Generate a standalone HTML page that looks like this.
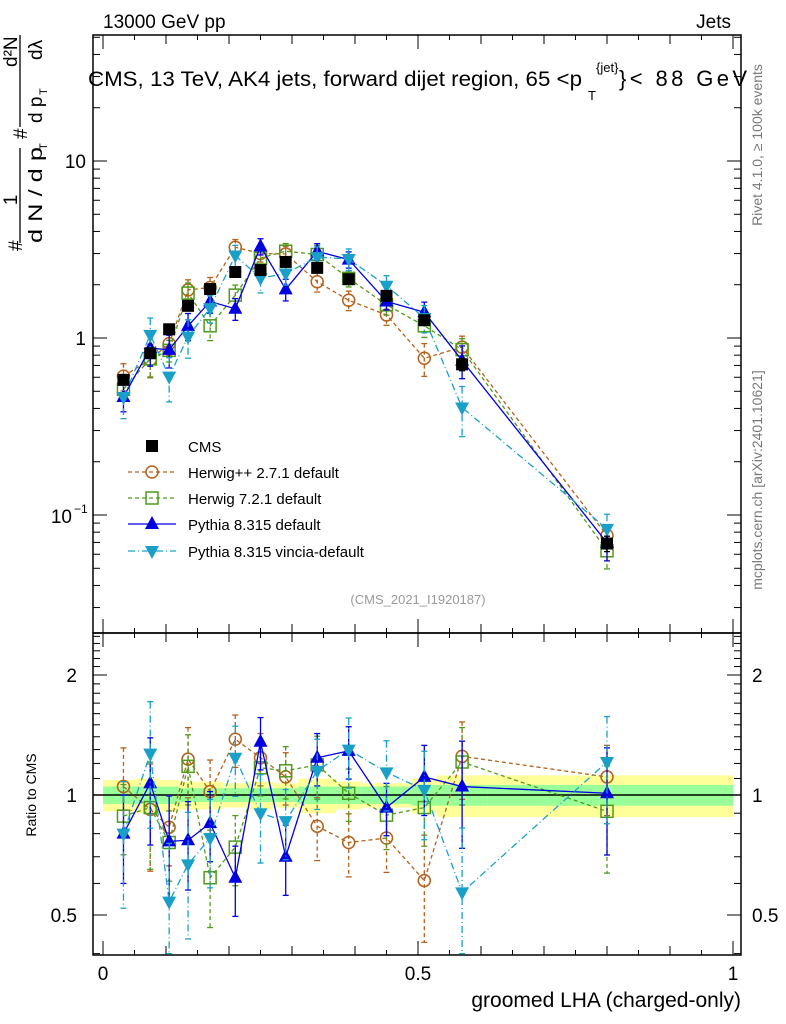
<!DOCTYPE html>
<html><head><meta charset="utf-8"><style>
body{margin:0;background:#fff;width:786px;height:1024px;overflow:hidden;font-family:"Liberation Sans",sans-serif}
svg{position:absolute;left:0;top:0}
</style></head><body>
<svg id="c" width="786" height="1024" viewBox="0 0 786 1024" font-family="Liberation Sans, sans-serif"></svg>
<script>
const xVals=[0.0325,0.075,0.105,0.135,0.17,0.21,0.25,0.29,0.34,0.39,0.45,0.51,0.57,0.8];
const binEdges=[0,0.05,0.09,0.12,0.15,0.19,0.23,0.27,0.31,0.37,0.41,0.49,0.53,0.61,1.0];
const cmsVals=[0.58,0.82,1.12,1.52,1.89,2.36,2.42,2.69,2.49,2.15,1.73,1.26,0.71,0.069];
const bandYellow=[0.09,0.1,0.09,0.08,0.08,0.07,0.08,0.07,0.1,0.08,0.07,0.1,0.12,0.12];
const bandGreen=[0.05,0.05,0.05,0.04,0.04,0.04,0.04,0.04,0.05,0.05,0.05,0.06,0.06,0.06];
const herwigPPRatio=[1.05,0.92,0.83,1.23,1.02,1.38,1.24,1.11,0.835,0.76,0.78,0.61,1.25,1.11];
const herwig7Ratio=[0.885,0.93,0.76,1.18,0.62,0.74,1.17,1.15,1.19,1.01,0.89,0.93,1.21,0.91];
const pythiaRatio=[0.80,1.07,0.765,0.77,0.85,0.62,1.36,0.70,1.24,1.29,0.93,1.11,1.05,1.01];
const vinciaRatio=[0.80,1.27,0.54,0.67,0.78,1.24,0.90,0.86,1.15,1.30,1.14,1.03,0.57,1.21];
const herwigPPErr=[0.25,0.3,0.2,0.2,0.2,0.15,0.15,0.15,0.18,0.18,0.18,0.3,0.22,0.2];
const herwig7Err=[0.2,0.3,0.2,0.2,0.25,0.2,0.15,0.15,0.18,0.15,0.18,0.2,0.22,0.3];
const pythiaErr=[0.25,0.3,0.3,0.25,0.2,0.2,0.15,0.2,0.15,0.15,0.15,0.2,0.3,0.3];
const vinciaErr=[0.35,0.35,0.4,0.35,0.25,0.2,0.25,0.2,0.2,0.2,0.2,0.25,0.45,0.3];
const cmsErr=[0.05,0.06,0.05,0.05,0.04,0.04,0.04,0.04,0.05,0.05,0.05,0.06,0.08,0.1];

const NS="http://www.w3.org/2000/svg";const svg=document.getElementById('c');
function el(t,a,p){const e=document.createElementNS(NS,t);for(const k in a)e.setAttribute(k,a[k]);(p||svg).appendChild(e);return e;}
const L=93,R=741,T=35,M=633,B=955;
const X=v=>103+630*v;
const Y=v=>338-177*Math.log10(v);
const RY=r=>795-120*Math.log2(r);
const gB=el('g',{});
for(let i=0;i<xVals.length;i++){const x0=X(binEdges[i]),x1=X(binEdges[i+1]);
 let r=el('rect',{x:x0,y:RY(1+bandYellow[i]),width:x1-x0,height:RY(1-bandYellow[i])-RY(1+bandYellow[i]),fill:'#ffff99'},gB);
 
 r=el('rect',{x:x0,y:RY(1+bandGreen[i]),width:x1-x0,height:RY(1-bandGreen[i])-RY(1+bandGreen[i]),fill:'#99ff99'},gB);
 }
el('line',{x1:L,x2:R,y1:RY(1),y2:RY(1),stroke:'#000','stroke-width':1.5});
el('rect',{x:L,y:T,width:R-L,height:M-T,fill:'none',stroke:'#000','stroke-width':1.5});
el('rect',{x:L,y:M,width:R-L,height:B-M,fill:'none',stroke:'#000','stroke-width':1.5});
for(let d=-2;d<=1;d++)for(let k=1;k<=9;k++){const v=k*Math.pow(10,d);const y=Y(v);if(y<T||y>M)continue;const len=k==1?14:7;
 el('line',{x1:L,x2:L+len,y1:y,y2:y,stroke:'#000'});el('line',{x1:R,x2:R-len,y1:y,y2:y,stroke:'#000'});}
[0.4,0.5,0.6,0.7,0.8,0.9,1,1.1,1.2,1.3,1.4,1.5,1.6,1.7,1.8,1.9,2,2.1,2.2,2.3,2.4,2.5].forEach(v=>{const y=RY(v);const len=(v==0.5||v==1||v==2)?14:7;
 el('line',{x1:L,x2:L+len,y1:y,y2:y,stroke:'#000'});el('line',{x1:R,x2:R-len,y1:y,y2:y,stroke:'#000'});});
for(let i=0;i<=20;i++){const v=i*0.05;const x=X(v);const len=(i%10==0)?14:(i%2==0?9:5);
 el('line',{x1:x,x2:x,y1:B,y2:B-len,stroke:'#000'});el('line',{x1:x,x2:x,y1:M,y2:M+len,stroke:'#000'});
 el('line',{x1:x,x2:x,y1:M,y2:M-len,stroke:'#000'});el('line',{x1:x,x2:x,y1:T,y2:T+len,stroke:'#000'});}
function txt(s,a,name,p){const t=el('text',a,p);t.textContent=s;return t;}
txt('10',{x:86,y:168,'font-size':19,'text-anchor':'end'},'y-tick-10');
txt('1',{x:86,y:345,'font-size':19,'text-anchor':'end'},'y-tick-1');
txt('10',{x:72,y:523,'font-size':19,'text-anchor':'end'},'y-tick-0.1');
txt('−1',{x:74,y:513,'font-size':12},'y-tick-exp');
[[2,'2'],[1,'1'],[0.5,'0.5']].forEach(([v,s])=>{txt(s,{x:77,y:RY(v)+7,'font-size':19,'text-anchor':'end'},'ratio-tick-'+s);
 txt(s,{x:752,y:RY(v)+7,'font-size':19},'ratio-tick-right-'+s);});
[[0,'0'],[0.5,'0.5'],[1,'1']].forEach(([v,s])=>txt(s,{x:X(v),y:980,'font-size':19,'text-anchor':'middle'},'x-tick-'+s));
txt('groomed LHA (charged-only)',{x:741,y:1007,'font-size':21,'text-anchor':'end'},'x-axis-title');
txt('Ratio to CMS',{x:0,y:0,'font-size':14,'text-anchor':'middle',transform:'translate(36,795) rotate(-90)'},'ratio-axis-title');
txt('13000 GeV pp',{x:103,y:28,'font-size':19},'header-left');
txt('Jets',{x:731,y:28,'font-size':19,'text-anchor':'end'},'header-right');
const tg=el('g',{});
txt('CMS, 13 TeV, AK4 jets, forward dijet region, 65 <p',{x:88,y:86,'font-size':21,textLength:494,lengthAdjust:'spacingAndGlyphs'},'title-main',tg);
txt('{jet}',{x:596,y:72,'font-size':13},'title-sup',tg);
txt('T',{x:588,y:100,'font-size':13},'title-sub',tg);
txt('}< 88 GeV',{x:619,y:86,'font-size':22,textLength:128,lengthAdjust:'spacing'},'title-end',tg);
txt('Rivet 4.1.0, ≥ 100k events',{x:0,y:0,'font-size':14,fill:'#777','text-anchor':'middle',transform:'translate(762,145) rotate(-90)'},'rivet-label');
txt('mcplots.cern.ch [arXiv:2401.10621]',{x:0,y:0,'font-size':14,fill:'#777','text-anchor':'middle',transform:'translate(762,480) rotate(-90)'},'mcplots-label');
txt('(CMS_2021_I1920187)',{x:418,y:604,'font-size':13,fill:'#999','text-anchor':'middle'},'analysis-id');
const yt=el('g',{transform:'rotate(-90)'});
el('text',{x:-251,y:22,'font-size':19},yt).textContent='#';
el('line',{x1:-243,x2:-148,y1:20,y2:20,stroke:'#000','stroke-width':1.3},yt);
el('text',{x:-200,y:17,'font-size':19,'text-anchor':'middle'},yt).textContent='1';
el('text',{x:-243,y:42,'font-size':19,textLength:96,lengthAdjust:'spacingAndGlyphs'},yt).textContent='d N / d p';
el('text',{x:-150,y:47,'font-size':11},yt).textContent='T';
el('text',{x:-139,y:27,'font-size':19},yt).textContent='#';
el('line',{x1:-127,x2:-35,y1:20,y2:20,stroke:'#000','stroke-width':1.3},yt);
el('text',{x:-67,y:17,'font-size':19},yt).textContent='d²N';
el('text',{x:-123,y:42,'font-size':19},yt).textContent='d p';
el('text',{x:-95,y:47,'font-size':11},yt).textContent='T';
el('text',{x:-60,y:42,'font-size':19},yt).textContent='dλ';
const series=[
 {name:'herwigpp',label:'Herwig++ 2.7.1 default',col:'#b5601a',dash:'4,3',r:herwigPPRatio,e:herwigPPErr,m:'circle'},
 {name:'herwig7',label:'Herwig 7.2.1 default',col:'#4f9a1c',dash:'4,3',r:herwig7Ratio,e:herwig7Err,m:'square'},
 {name:'pythia',label:'Pythia 8.315 default',col:'#0000e0',dash:'',r:pythiaRatio,e:pythiaErr,m:'tri'},
 {name:'vincia',label:'Pythia 8.315 vincia-default',col:'#1aa0c8',dash:'7,3,1,3',r:vinciaRatio,e:vinciaErr,m:'itri'}];
function marker(g,m,x,y,c){let e;
 if(m=='circle')e=el('circle',{cx:x,cy:y,r:6,fill:'none',stroke:c,'stroke-width':1.5},g);
 else if(m=='square')e=el('rect',{x:x-6,y:y-6,width:12,height:12,fill:'none',stroke:c,'stroke-width':1.5},g);
 else if(m=='tri')e=el('polygon',{points:`${x},${y-8} ${x-7},${y+5} ${x+7},${y+5}`,fill:c},g);
 else if(m=='itri')e=el('polygon',{points:`${x},${y+8} ${x-7},${y-5} ${x+7},${y-5}`,fill:c},g);
 else e=el('rect',{x:x-6,y:y-6,width:12,height:12,fill:c},g);
 }
function errbar(g,x,y1,y2,c,dash){el('line',{x1:x,x2:x,y1:y1,y2:y2,stroke:c,'stroke-width':1.3,'stroke-dasharray':dash},g);
 el('line',{x1:x-3,x2:x+3,y1:y1,y2:y1,stroke:c,'stroke-width':1.3},g);el('line',{x1:x-3,x2:x+3,y1:y2,y2:y2,stroke:c,'stroke-width':1.3},g);}
const gc=el('g',{});
series.forEach(s=>{
 const g=el('g',{});
 const vals=cmsVals.map((c,i)=>c*s.r[i]);
 el('polyline',{points:xVals.map((x,i)=>X(x)+','+Y(vals[i])).join(' '),fill:'none',stroke:s.col,'stroke-width':1.3,'stroke-dasharray':s.dash},g);
 el('polyline',{points:xVals.map((x,i)=>X(x)+','+RY(s.r[i])).join(' '),fill:'none',stroke:s.col,'stroke-width':1.3,'stroke-dasharray':s.dash},g);
 xVals.forEach((x,i)=>{errbar(g,X(x),Y(vals[i]*(1+s.e[i]*0.7)),Y(vals[i]*(1-s.e[i]*0.7)),s.col,s.dash);
  errbar(g,X(x),RY(s.r[i]*(1+s.e[i])),RY(Math.max(0.4,s.r[i]*(1-s.e[i]))),s.col,s.dash);
  marker(g,s.m,X(x),Y(vals[i]),s.col);marker(g,s.m,X(x),RY(s.r[i]),s.col);});
});
svg.appendChild(gc);
xVals.forEach((x,i)=>{errbar(gc,X(x),Y(cmsVals[i]*(1+cmsErr[i])),Y(cmsVals[i]*(1-cmsErr[i])),'#000','');marker(gc,'sq',X(x),Y(cmsVals[i]),'#000');});
const lg=el('g',{});
const ly=[446,472,498,524,551];
marker(lg,'sq',152,ly[0],'#000');txt('CMS',{x:188,y:ly[0]+6,'font-size':15},'legend-entry-cms',lg);
series.forEach((s,k)=>{const y=ly[k+1];el('line',{x1:128,x2:176,y1:y,y2:y,stroke:s.col,'stroke-width':1.3,'stroke-dasharray':s.dash},lg);
 marker(lg,s.m,152,y,s.col);txt(s.label,{x:188,y:y+6,'font-size':15},'legend-entry-'+s.name,lg);});
</script>
</body></html>
